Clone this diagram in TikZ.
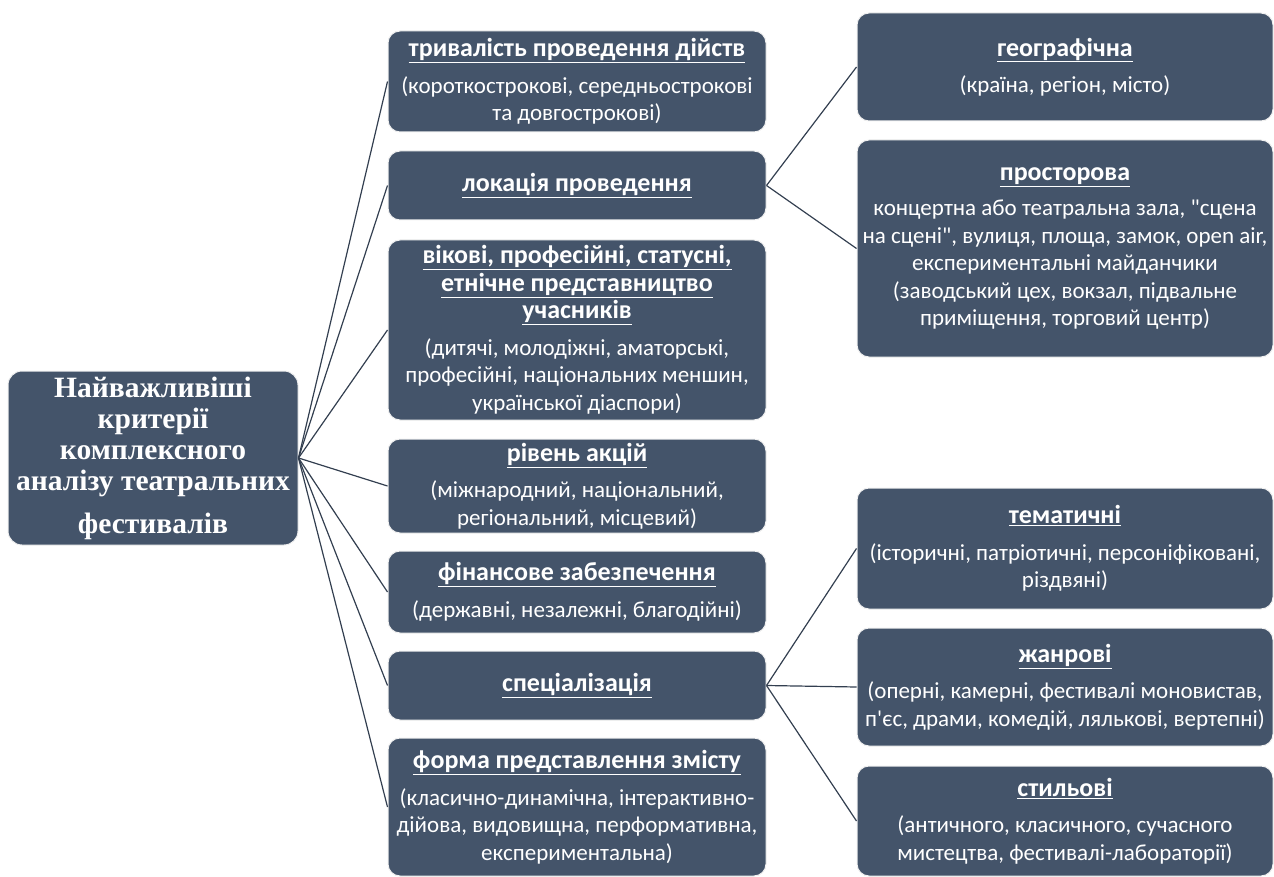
\documentclass[tikz,border=0pt]{standalone}
\usepackage{fontspec}
\setmainfont{Carlito}
\newfontfamily\titlefont{Liberation Serif}
\definecolor{boxblue}{HTML}{44546A}
\definecolor{linkgray}{HTML}{333F50}
\newcommand{\hd}[1]{{\fontsize{26}{27.5}\selectfont\textbf{\underline{#1}}}}

\begin{document}
\begin{tikzpicture}[x=1pt,y=-1pt,
		box/.style={draw=white!88!gray,line width=1pt,fill=boxblue,rounded corners=12pt,text=white,align=center,inner sep=0pt,font=\fontsize{23}{27.5}\selectfont},
		rootbox/.style={box,rounded corners=14pt,font=\titlefont\bfseries\fontsize{29.5}{31}\selectfont},
		link/.style={draw=linkgray,line width=1.2pt}]
		\useasboundingbox (0,0) rectangle (1274,877);
		% root
		\node[rootbox,minimum width=290pt,minimum height=174pt] (root) at (153,458) {Найважливіші\\критерії\\комплексного\\аналізу театральних\\[12pt]фестивалів};
		% middle column
		\node[box,minimum width=378pt,minimum height=101pt] (tryv) at (577,81.5) {\hd{тривалість проведення дійств}\\[9pt](короткострокові,\ середньострокові\\та довгострокові)};
		\node[box,minimum width=378pt,minimum height=69pt] (lokac) at (577,185.5) {\hd{локація проведення}};
		\node[box,minimum width=378pt,minimum height=180pt] (vikovi) at (577,330) {\hd{вікові, професійні, статусні,}\\\hd{етнічне представництво}\\\hd{учасників}\\[9pt](дитячі, молодіжні, аматорські,\\професійні, національних меншин,\\української діаспори)};
		\node[box,minimum width=378pt,minimum height=94pt] (riven) at (577,486) {\hd{рівень акцій}\\[9pt](міжнародний, національний,\\регіональний, місцевий)};
		\node[box,minimum width=378pt,minimum height=82pt] (finans) at (577,592) {\hd{фінансове забезпечення}\\[9pt](державні, незалежні, благодійні)};
		\node[box,minimum width=378pt,minimum height=69pt] (spec) at (577,685.5) {\hd{спеціалізація}};
		\node[box,minimum width=378pt,minimum height=138pt] (forma) at (577,807) {\hd{форма представлення змісту}\\[9pt](класично-динамічна, інтерактивно-\\дійова, видовищна, перформативна,\\експериментальна)};
		% right column
		\node[box,minimum width=416pt,minimum height=108pt] (geo) at (1065,67) {\hd{географічна}\\[9pt](країна, регіон, місто)};
		\node[box,minimum width=416pt,minimum height=217pt] (prost) at (1065,248.5) {\hd{просторова}\\[8pt]концертна або театральна зала, \textquotedbl сцена\\на сцені\textquotedbl, вулиця, площа, замок, open air,\\експериментальні майданчики\\(заводський цех, вокзал, підвальне\\приміщення, торговий центр)};
		\node[box,minimum width=416pt,minimum height=121pt] (temat) at (1065,548.5) {\hd{тематичні}\\[9pt](історичні, патріотичні, персоніфіковані,\\різдвяні)};
		\node[box,minimum width=416pt,minimum height=118pt] (zhanr) at (1065,687) {\hd{жанрові}\\[9pt](оперні, камерні, фестивалі моновистав,\\п\textquotesingle єс, драми, комедій, лялькові, вертепні)};
		\node[box,minimum width=416pt,minimum height=110pt] (styl) at (1065,821) {\hd{стильові}\\[9pt](античного, класичного, сучасного\\мистецтва, фестивалі-лабораторії)};
		% connectors
		\foreach \b in {tryv,lokac,vikovi,riven,finans,spec,forma}
			\draw[link] (root.east) -- (\b.west);
		\foreach \b in {geo,prost}
			\draw[link] (lokac.east) -- (\b.west);
		\foreach \b in {temat,zhanr,styl}
			\draw[link] (spec.east) -- (\b.west);
\end{tikzpicture}
\end{document}
